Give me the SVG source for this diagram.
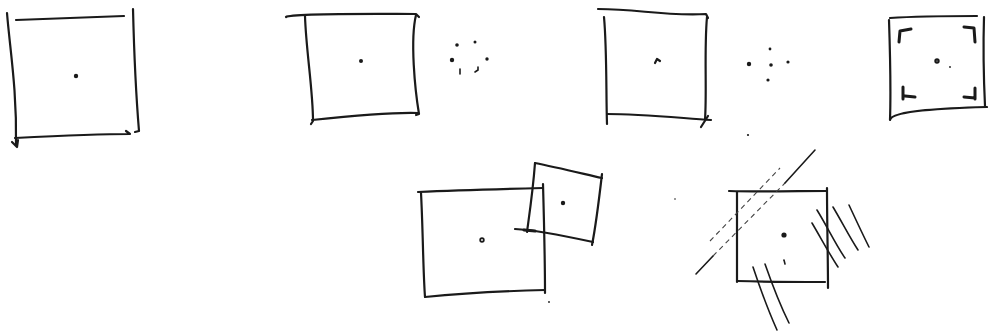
<svg xmlns="http://www.w3.org/2000/svg" width="988" height="335" viewBox="0 0 988 335">
<style>
.s{fill:none;stroke:#1a1a1a;stroke-width:2.2;stroke-linecap:round;stroke-linejoin:round}
.b{fill:none;stroke:#1a1a1a;stroke-width:3;stroke-linecap:round;stroke-linejoin:round}
.t{fill:none;stroke:#1a1a1a;stroke-width:1.6;stroke-linecap:round}
.f{fill:none;stroke:#444;stroke-width:1.1;stroke-dasharray:5 4}
.d{fill:#1a1a1a}
</style>
<rect width="988" height="335" fill="#fff"/>
<g id="sketch1">
<path class="s" d="M7,13 C10,50 17,90 16,145"/>
<path class="s" d="M12,142 L17,147 L18,140"/>
<path class="s" d="M16,20 C50,19 90,17 124,16"/>
<path class="s" d="M133,9 C134,50 136,95 139,131 L135,132"/>
<path class="s" d="M15,138 C55,136 95,134 130,134 L126,131"/>
<circle class="d" cx="76" cy="76" r="2.2"/>
</g>
<g id="sketch2">
<path class="s" d="M286,17 C292,13 380,14 416,14 L419,17"/>
<path class="s" d="M305,16 C306,50 313,90 313,121 L311,124"/>
<path class="s" d="M416,15 C410,40 415,90 419,114 L416,115"/>
<path class="s" d="M312,120 C350,116 390,112 418,113"/>
<circle class="d" cx="361" cy="61" r="2"/>
<circle class="d" cx="457" cy="45" r="1.8"/>
<circle class="d" cx="475" cy="42" r="1.5"/>
<circle class="d" cx="452" cy="60" r="2.2"/>
<circle class="d" cx="487" cy="59" r="1.7"/>
<path class="t" d="M460,69 L460,74"/>
<path class="t" d="M475,72 L478,70 L478,67"/>
</g>
<g id="sketch3">
<path class="s" d="M598,9 C640,9 660,16 706,14 L708,18"/>
<path class="s" d="M604,17 C607,50 606,95 607,124"/>
<path class="s" d="M707,17 C704,50 707,90 705,120"/>
<path class="s" d="M607,114 C640,114 680,118 711,120"/>
<path class="s" d="M701,127 L708,116"/>
<path class="s" d="M655,63 L657,59 L660,61"/>
<circle class="d" cx="749" cy="64" r="2.2"/>
<circle class="d" cx="770" cy="49" r="1.4"/>
<circle class="d" cx="771" cy="65" r="1.8"/>
<circle class="d" cx="788" cy="62" r="1.6"/>
<circle class="d" cx="768" cy="80" r="1.6"/>
<circle class="d" cx="748" cy="135" r="1.1"/>
</g>
<g id="sketch4">
<path class="s" d="M890,18 C920,16 950,16 977,16"/>
<path class="s" d="M889,20 C890,50 891,90 890,120 C892,110 950,108 987,107"/>
<path class="s" d="M984,17 C983,50 984,85 985,106"/>
<path class="b" d="M899,42 L900,31 L911,29"/>
<path class="b" d="M964,27 L974,28 L975,42"/>
<path class="b" d="M903,87 L903,99 M905,96 L915,97"/>
<path class="b" d="M964,97 L975,98 M975,88 L975,99"/>
<circle class="s" cx="937" cy="61" r="1.6"/>
<circle class="d" cx="950" cy="67" r="0.9"/>
</g>
<g id="sketch5">
<path class="s" d="M418,192 C460,190 500,189 543,188"/>
<path class="s" d="M421,193 C423,230 423,270 425,297"/>
<path class="s" d="M425,297 C465,293 505,291 545,290"/>
<path class="s" d="M543,184 C544,220 545,260 545,293"/>
<circle class="s" cx="482" cy="240" r="1.8" style="stroke-width:1.8"/>
<path class="s" d="M535,163 C555,167 580,173 602,178"/>
<path class="s" d="M535,163 C533,190 530,210 527,232"/>
<path class="s" d="M602,174 C599,200 596,225 592,245"/>
<path class="s" d="M515,229 C535,230 565,236 593,242"/>
<path class="b" d="M524,230 L535,231"/>
<circle class="d" cx="563" cy="203" r="2.2"/>
<circle class="d" cx="549" cy="302" r="0.9"/>
</g>
<g id="sketch6">
<path class="s" d="M729,191 C760,192 800,191 827,191"/>
<path class="s" d="M737,192 C737,220 737,255 737,282"/>
<path class="s" d="M827,188 C827,220 828,260 828,288"/>
<path class="s" d="M737,281 C770,282 800,282 825,282"/>
<circle class="d" cx="784" cy="235" r="2.6"/>
<path class="t" d="M784,260 L785,264"/>
<path class="t" d="M696,274 L713,256"/>
<path class="f" d="M713,256 L785,183"/>
<path class="t" d="M785,183 L815,150"/>
<path class="f" d="M710,241 L780,168"/>
<path class="t" d="M817,210 C828,228 836,245 845,258"/>
<path class="t" d="M812,223 C822,240 830,255 838,267"/>
<path class="t" d="M833,207 C842,222 850,238 858,250"/>
<path class="t" d="M849,205 C856,220 862,233 869,247"/>
<path class="t" d="M753,267 C760,288 768,310 777,330"/>
<path class="t" d="M765,264 C772,284 780,305 789,323"/>
<circle class="d" cx="675" cy="199" r="0.8"/>
</g>
</svg>
